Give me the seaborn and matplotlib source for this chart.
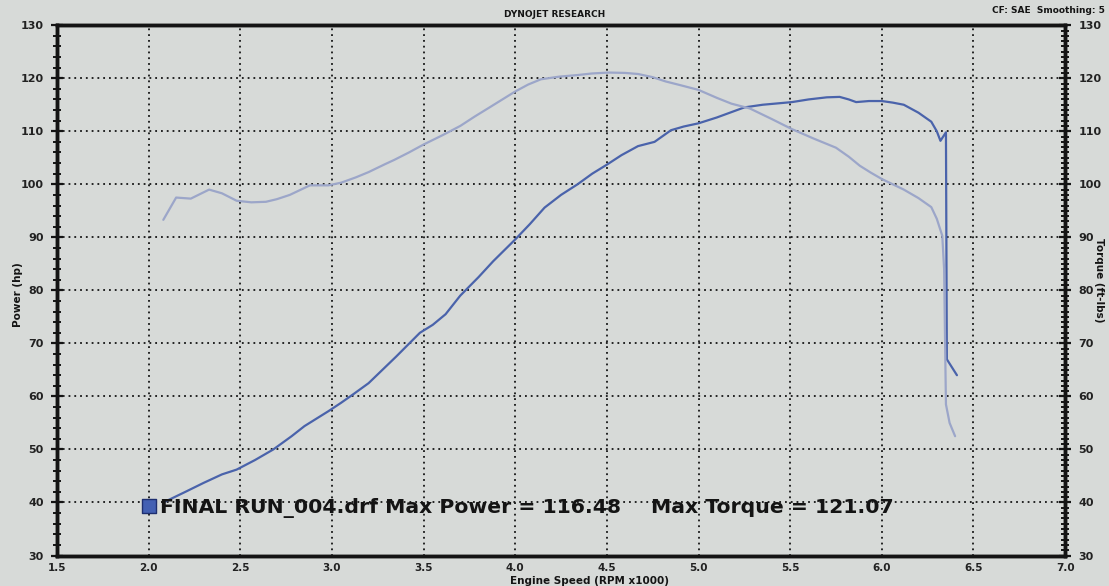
import numpy as np
import pandas as pd
import seaborn as sns
import matplotlib.pyplot as plt
from matplotlib.ticker import MultipleLocator, FormatStrFormatter

# power run (hp)
rpm_power = [2.08, 2.20, 2.30, 2.40, 2.48, 2.58, 2.68, 2.78, 2.85, 2.98, 3.05, 3.12, 3.20,
             3.26, 3.35, 3.48, 3.55, 3.62, 3.70, 3.80, 3.88, 4.00, 4.08, 4.16, 4.25, 4.34,
             4.42, 4.50, 4.58, 4.67, 4.76, 4.85, 4.92, 5.00, 5.10, 5.25, 5.35, 5.51, 5.60,
             5.70, 5.77, 5.82, 5.86, 5.93, 6.00, 6.06, 6.12, 6.20, 6.27, 6.30, 6.32, 6.35,
             6.355, 6.41]
power_hp = [40.0, 42.0, 43.7, 45.3, 46.2, 48.0, 50.0, 52.5, 54.4, 57.2, 58.8, 60.5, 62.5,
            64.5, 67.5, 72.0, 73.5, 75.5, 79.0, 82.5, 85.5, 89.6, 92.5, 95.6, 98.0, 100.0,
            102.0, 103.7, 105.5, 107.2, 108.0, 110.2, 110.9, 111.5, 112.6, 114.5, 115.0, 115.5, 116.0,
            116.4, 116.48, 116.0, 115.5, 115.7, 115.7, 115.4, 115.0, 113.5, 111.8, 110.0, 108.2, 109.8,
            67.0, 64.0]

# torque run (ft-lbs)
rpm_torque = [2.08, 2.15, 2.23, 2.33, 2.40, 2.48, 2.56, 2.64, 2.70, 2.77, 2.88, 2.98, 3.05,
              3.13, 3.20, 3.29, 3.34, 3.42, 3.50, 3.60, 3.70, 3.78, 3.86, 3.93, 4.00, 4.07,
              4.14, 4.24, 4.34, 4.42, 4.51, 4.60, 4.67, 4.75, 4.82, 4.90, 5.00, 5.10, 5.18,
              5.28, 5.40, 5.51, 5.63, 5.75, 5.82, 5.88, 5.94, 6.00, 6.06, 6.12, 6.20, 6.27,
              6.30, 6.33, 6.34, 6.345, 6.35, 6.37, 6.40]
torque_ftlb = [93.3, 97.5, 97.3, 99.0, 98.3, 96.9, 96.6, 96.7, 97.2, 98.0, 99.8, 99.8, 100.3,
               101.3, 102.3, 103.8, 104.6, 106.0, 107.5, 109.2, 111.0, 112.8, 114.5, 116.0, 117.5, 118.8,
               119.8, 120.3, 120.6, 120.9, 121.07, 121.0, 120.8, 120.2, 119.4, 118.7, 117.8, 116.3, 115.2,
               114.3, 112.3, 110.4, 108.6, 106.9, 105.2, 103.5, 102.2, 101.0, 100.0, 99.0, 97.4, 95.7,
               93.5, 90.3, 84.0, 71.0, 58.5, 55.0, 52.5]

x_ticks = [1.5, 2.0, 2.5, 3.0, 3.5, 4.0, 4.5, 5.0, 5.5, 6.0, 6.5, 7.0]
run_name = "FINAL RUN_004.drf"
max_power = "116.48"
max_torque = "121.07"

df_p = pd.DataFrame({"rpm": rpm_power, "hp": power_hp})
df_t = pd.DataFrame({"rpm": rpm_torque, "tq": torque_ftlb})

sns.set_style("white")
plt.rcParams['font.family'] = ['DejaVu Sans']

paper = '#d7dad8'
ink = '#141414'
fig = plt.figure(figsize=(11.09, 5.86), dpi=100, facecolor=paper)
ax = fig.add_axes([0.0514, 0.052, 0.909, 0.905])
ax.set_facecolor(paper)
ax2 = ax.twinx()

sns.lineplot(data=df_p, x="rpm", y="hp", ax=ax, color='#4a63ab', linewidth=1.6,
             sort=False, estimator=None, zorder=3)
sns.lineplot(data=df_t, x="rpm", y="tq", ax=ax2, color='#9ca6c9', linewidth=1.6,
             sort=False, estimator=None, zorder=3)

ax.set_xlim(1.5, 7.0)
ax.set_ylim(30, 130)
ax2.set_ylim(30, 130)
ax.set_xticks(x_ticks)
ax.xaxis.set_minor_locator(MultipleLocator(0.1))
ax.xaxis.set_major_formatter(FormatStrFormatter('%.1f'))
ax.yaxis.set_major_locator(MultipleLocator(10))
ax.yaxis.set_minor_locator(MultipleLocator(2))
ax2.yaxis.set_major_locator(MultipleLocator(10))
ax2.yaxis.set_minor_locator(MultipleLocator(1))

ax.grid(which='major', color=ink, linestyle=(0, (1, 2.2)), linewidth=1.3)
ax.set_axisbelow(True)

for a in (ax, ax2):
    for s in a.spines.values():
        s.set_linewidth(2.5)
        s.set_color(ink)
    a.set_xlabel("")
    a.set_ylabel("")

ax.tick_params(axis='both', which='major', direction='inout', length=9, width=1.6,
               color=ink, labelsize=8, labelcolor='#222222', pad=5)
ax.tick_params(axis='x', which='major', labelsize=7.5, pad=1)
ax.tick_params(axis='both', which='minor', direction='inout', length=6, width=1.4, color=ink)
ax.tick_params(top=False, right=False, which='both')
ax2.tick_params(axis='y', which='major', direction='inout', length=9, width=1.6,
                color=ink, labelsize=8, labelcolor='#222222', pad=5)
ax2.tick_params(axis='y', which='minor', direction='inout', length=6, width=1.4, color=ink)
for lab in ax.get_xticklabels() + ax.get_yticklabels() + ax2.get_yticklabels():
    lab.set_fontweight('bold')

# run legend
ax.scatter([2.0], [39.3], marker='s', s=110, color='#4360b3', edgecolor='#1e2f70',
           linewidth=1, zorder=5)
ax.text(2.06, 39.0, f"{run_name} Max Power = {max_power}", fontsize=14.7,
        fontweight='bold', va='center', ha='left', color=ink, zorder=5)
ax.text(4.74, 39.0, f"Max Torque = {max_torque}", fontsize=14.7,
        fontweight='bold', va='center', ha='left', color=ink, zorder=5)

fig.text(0.5, 0.976, "DYNOJET RESEARCH", ha='center', va='center', fontsize=6.5,
         fontweight='bold', color=ink)
fig.text(0.996, 0.982, "CF: SAE  Smoothing: 5", ha='right', va='center', fontsize=6.5,
         fontweight='bold', color=ink)
fig.text(0.532, 0.009, "Engine Speed (RPM x1000)", ha='center', va='center', fontsize=7.5,
         fontweight='bold', color=ink)
fig.text(0.016, 0.497, "Power (hp)", rotation=90, ha='center', va='center', fontsize=7.5,
         fontweight='bold', color=ink)
fig.text(0.991, 0.522, "Torque (ft-lbs)", rotation=270, ha='center', va='center', fontsize=7.5,
         fontweight='bold', color=ink)

fig.savefig("out.png", dpi=100, facecolor=paper)
